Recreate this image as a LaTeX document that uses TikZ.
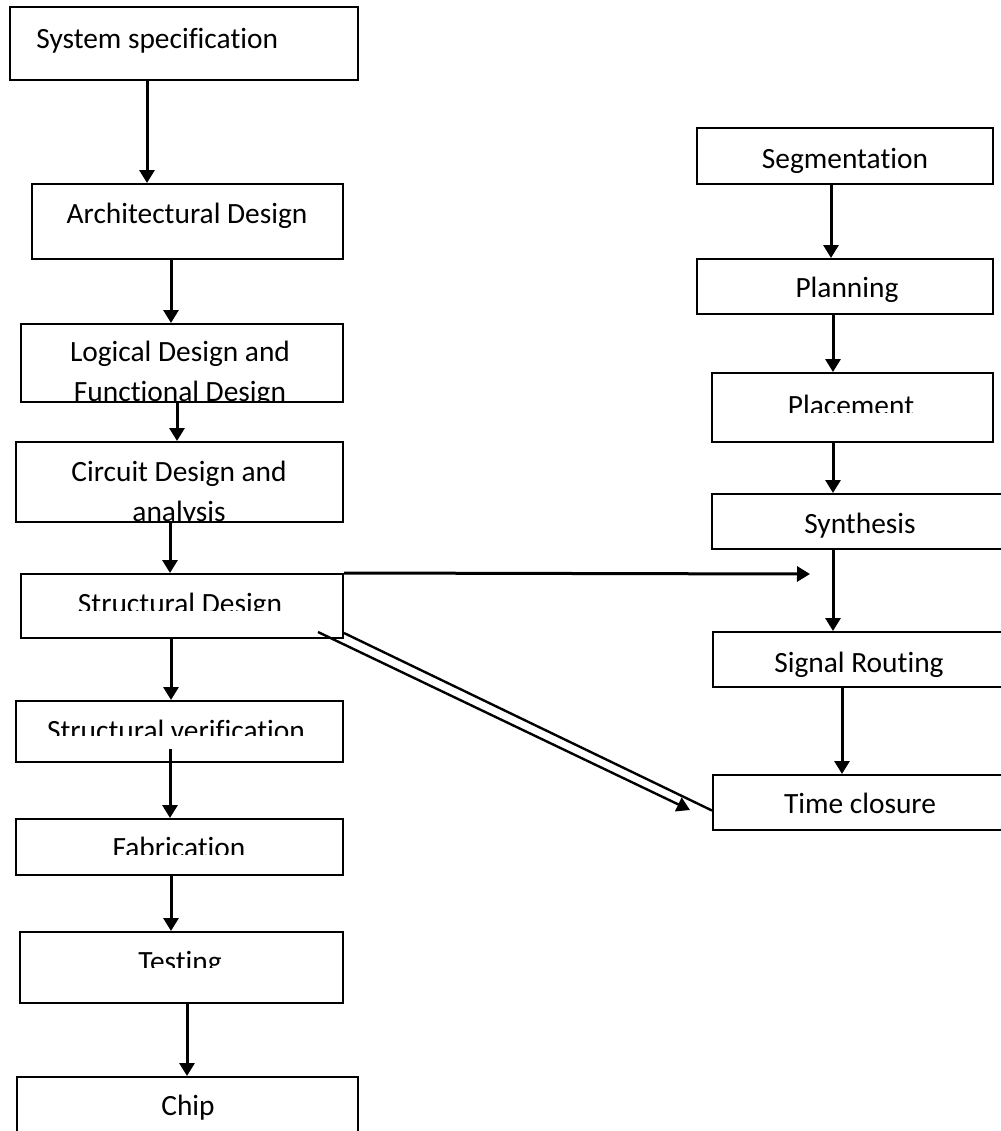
\documentclass[tikz,border=0pt]{standalone}
\usepackage{fontspec}
\setmainfont{Carlito}[Ligatures=NoCommon]
\usetikzlibrary{fit}
\usetikzlibrary{calc}
\usetikzlibrary{arrows.meta}
\tikzset{
% Two node styles for the flow: boxes and their texts
box node/.style={draw,line width=1,inner sep=0,fit={#1}},
text node/.style={inner sep=0,anchor=base,align=center,font=\fontsize{14.7}{20}\selectfont}
}
% text that is cut off at a given height inside its box
\newcommand{\cutlabel}[5]{%
	\begin{scope}
		\clip(#1.north west)rectangle(#1.east |- 0,#4);
		\node(#2)[text node]at#3{#5};
	\end{scope}}

\begin{document}
\begin{tikzpicture}[x=0.5pt,y=-0.5pt]
		\tikzstyle{flow}=[line width=1.5,-{Triangle[length=6.5pt,width=7.5pt]}]
		\useasboundingbox(0,0)rectangle(1001,1131);
		% The left column
		\node(sys)[box node={(10,7)(358,80)}]{};
		\node(arch)[box node={(32,184)(343,259)}]{};
		\node(log)[box node={(21,324)(343,402)}]{};
		\node(circ)[box node={(16,442)(343,522)}]{};
		\node(struct)[box node={(21,574)(343,638)}]{};
		\node(verif)[box node={(16,701)(343,762)}]{};
		\node(fab)[box node={(16,819)(343,875)}]{};
		\node(test)[box node={(20,932)(343,1003)}]{};
		\node(chip)[box node={(17,1077)(358,1145)}]{};
		% The right column
		\node(seg)[box node={(697,128)(993,184)}]{};
		\node(plan)[box node={(697,259)(993,314)}]{};
		\node(place)[box node={(712,373)(993,442)}]{};
		\node(synth)[box node={(712,494)(1010,549)}]{};
		\node(sig)[box node={(713,632)(1010,687)}]{};
		\node(time)[box node={(713,775)(1010,830)}]{};
		% texts
		\node(t-sys)[text node,anchor=base west]at(36,48){System specification};
		\node(t-arch)[text node]at(187,223){Architectural Design};
		\cutlabel{log}{t-log}{(180,401)}{402}{Logical Design and\\Functional Design}
		\cutlabel{circ}{t-circ}{(179,521)}{522}{Circuit Design and\\analysis}
		\cutlabel{struct}{t-struct}{(180,613)}{610}{Structural Design}
		\cutlabel{verif}{t-verif}{(176,740)}{735}{Structural verification}
		\cutlabel{fab}{t-fab}{(179,857)}{854}{Fabrication}
		\cutlabel{test}{t-test}{(180,971)}{967}{Testing}
		\node(t-chip)[text node]at(188,1115){Chip};
		\node(t-seg)[text node]at(845,168){Segmentation};
		\node(t-plan)[text node]at(847,297){Planning};
		\cutlabel{place}{t-place}{(851,415)}{412}{Placement}
		\node(t-synth)[text node]at(860,533){Synthesis};
		\node(t-sig)[text node]at(859,672){Signal Routing};
		\node(t-time)[text node]at(860,813){Time closure};
		% arrows down the left column
		\draw[flow](sys.south -| 147,0)--(arch.north -| 147,0);
		\draw[flow](arch.south -| 171,0)--(log.north -| 171,0);
		\draw[flow](log.south -| 177,0)--(circ.north -| 177,0);
		\draw[flow](circ.south -| 170,0)--(struct.north -| 170,0);
		\draw[flow](struct.south -| 171,0)--(verif.north -| 171,0);
		\draw[flow]($(verif.south -| 170,0)+(0,-14)$)--(fab.north -| 170,0);
		\draw[flow](fab.south -| 171,0)--(test.north -| 171,0);
		\draw[flow](test.south -| 187,0)--(chip.north -| 187,0);
		% arrows down the right column
		\draw[flow](seg.south -| 831,0)--(plan.north -| 831,0);
		\draw[flow](plan.south -| 833,0)--(place.north -| 833,0);
		\draw[flow](place.south -| 833,0)--(synth.north -| 833,0);
		\draw[flow](synth.south -| 833,0)--(sig.north -| 833,0);
		\draw[flow](sig.south -| 842,0)--(time.north -| 842,0);
		% from Structural Design across
		\coordinate(h-end)at(810,574);
		\coordinate(d-end)at(690,810);
		\draw[flow](struct.north east)--(h-end);
		\draw[line width=1.2]($(struct.south east)+(0,-6)$)--($(time.west)+(0,8)$);
		\draw[flow,line width=1.2]($(struct.south east)+(-26,-7)$)--(d-end);
	\end{tikzpicture}
\end{document}
